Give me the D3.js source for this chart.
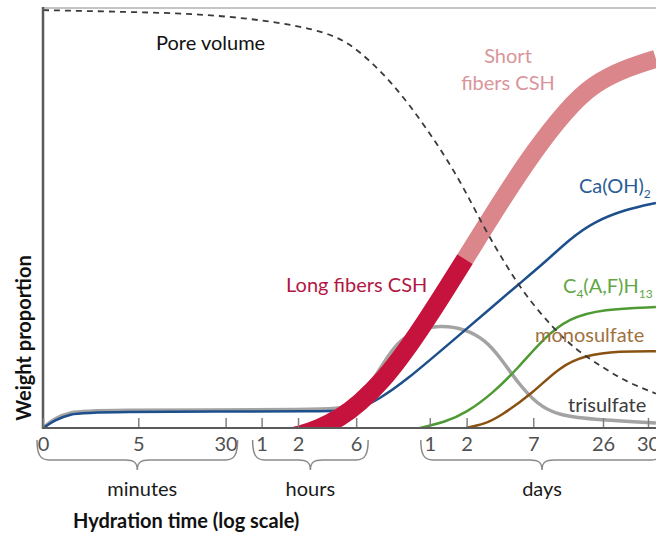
<!DOCTYPE html>
<meta charset="utf-8">
<style>
body { margin: 0; background: #fff; }
text { font-family: Lato, "Open Sans", sans-serif; }
.curve { fill: none; stroke-linejoin: round; }
.tick text { fill: #505050; font-size: 20px; }
</style>
<svg width="656" height="538"></svg>
<script src="https://d3js.org/d3.v7.min.js"></script>
<script>
// hydration time in minutes, weight proportion in % of plot height
var tickMinutes = [0, 5, 30, 60, 120, 360, 1440, 2880, 10080, 37440, 43200];
var tickLabels = ["0", "5", "30", "1", "2", "6", "1", "2", "7", "26", "30"];

var poreT = [0, 4.4, 18, 66, 220, 380, 720, 1340, 2500, 3910, 6030, 8790, 14620, 22530, 37440, 40300, 44300];
var poreV = [99.5, 99.05, 98.6, 97.1, 94.3, 90, 82.1, 71.7, 59.5, 48.1, 38.8, 31.4, 23.8, 18.6, 14.4, 11.0, 8.2];

var cshT = [40, 85, 125, 182, 265, 380, 620, 900, 1320, 1920, 3070, 5490, 10400, 18700, 31000, 40300, 44300];
var cshV = [-2.7, -2.5, -1.7, 0, 2.4, 5.7, 11.9, 18.1, 25.2, 32.6, 42.1, 54.0, 66.2, 75.7, 81.9, 85.7, 87.9];
var longFiberEnd = 2800; // long fibers up to ~2 days

var caohT = [0, 0.25, 0.66, 1.4, 290, 387, 565, 870, 2500, 4730, 7870, 12580, 20150, 31000, 40300, 44300];
var caohV = [0, 1.9, 3.3, 3.9, 3.9, 4.5, 7.1, 10.7, 22.1, 29.0, 34.5, 39.5, 45.0, 49.0, 52.1, 53.6];

var trisT = [0, 0.25, 0.66, 1.4, 241, 297, 387, 486, 609, 793, 1090, 1750, 2800, 4070, 5390, 7570, 10820, 16070, 35390, 44300];
var trisV = [0, 2.4, 3.7, 4.3, 4.3, 5.0, 7.4, 11.0, 15.7, 20.5, 23.3, 24.5, 23.6, 21.0, 16.9, 10.7, 5.7, 2.9, 1.9, 1.2];

var afhT = [1200, 1920, 2850, 4730, 7710, 12110, 19760, 37440, 44300];
var afhV = [0, 1.4, 3.6, 8.3, 14.5, 21.2, 26.2, 28.3, 28.8];

var monoT = [2850, 4070, 5290, 10040, 16370, 27190, 39390, 44300];
var monoV = [0, 1, 2.6, 8.3, 14.5, 17.4, 18.3, 18.3];

var svg = d3.select("svg");

var x = d3.scaleSymlog().constant(1)
    .domain([0, 37440, 43200])
    .range([43, 603, 648]);
var y = d3.scaleLinear().domain([0, 100]).range([428, 8]);

function series(t, v) { return t.map(function(d, i) { return [d, v[i]]; }); }

var line = d3.line()
    .x(function(d) { return x(d[0]); })
    .y(function(d) { return y(d[1]); })
    .curve(d3.curveBasis);

svg.append("clipPath").attr("id", "plot")
  .append("rect").attr("x", 43).attr("y", 0).attr("width", 613).attr("height", 428);

var g = svg.append("g").attr("clip-path", "url(#plot)");

// trisulfate
g.append("path").attr("class", "curve")
    .attr("d", line(series(trisT, trisV)))
    .attr("stroke", "#a3a3a3").attr("stroke-width", 3.5);

// Ca(OH)2
g.append("path").attr("class", "curve")
    .attr("d", line(series(caohT, caohV)))
    .attr("stroke", "#1d4f8c").attr("stroke-width", 2.5);

// C4(A,F)H13
g.append("path").attr("class", "curve")
    .attr("d", line(series(afhT, afhV)))
    .attr("stroke", "#4f9a35").attr("stroke-width", 2.5);

// monosulfate
g.append("path").attr("class", "curve")
    .attr("d", line(series(monoT, monoV)))
    .attr("stroke", "#8a5212").attr("stroke-width", 2.5);

// CSH: short fibers (pink) with long fibers (red) on the lower part
var cshD = line(series(cshT, cshV));
g.append("path").attr("class", "curve")
    .attr("d", cshD)
    .attr("stroke", "#da868a").attr("stroke-width", 18);

var red = g.append("path").attr("class", "curve")
    .attr("d", cshD)
    .attr("stroke", "#c6133d").attr("stroke-width", 18);

var rn = red.node(), total = rn.getTotalLength(), xEnd = x(longFiberEnd);
var lo = 0, hi = total;
for (var k = 0; k < 40; k++) {
  var mid = (lo + hi) / 2;
  if (rn.getPointAtLength(mid).x < xEnd) lo = mid; else hi = mid;
}
red.attr("stroke-dasharray", lo + " " + total);

// pore volume
g.append("path").attr("class", "curve")
    .attr("d", line(series(poreT, poreV)))
    .attr("stroke", "#3a3a3a").attr("stroke-width", 1.8)
    .attr("stroke-dasharray", "6,5");

// frame
svg.append("line").attr("x1", 43).attr("x2", 656).attr("y1", 8).attr("y2", 8)
    .attr("stroke", "#c4c4c4").attr("stroke-width", 2);
svg.append("line").attr("x1", 43).attr("x2", 43).attr("y1", 7).attr("y2", 429)
    .attr("stroke", "#5a5a5a").attr("stroke-width", 2.5);

var ax = svg.append("g")
    .attr("transform", "translate(0," + y(0) + ")")
    .call(d3.axisBottom(x)
      .tickValues(tickMinutes)
      .tickFormat(function(d, i) { return tickLabels[i]; })
      .tickSize(-10)
      .tickSizeOuter(0)
      .tickPadding(7));
ax.select(".domain").remove();
ax.selectAll(".tick line").attr("stroke", "#808080").attr("stroke-width", 1.5);
ax.selectAll(".tick text").attr("font-family", "Lato").attr("dy", "0.78em");

svg.append("line").attr("x1", 43).attr("x2", 656).attr("y1", y(0)).attr("y2", y(0))
    .attr("stroke", "#5a5a5a").attr("stroke-width", 2);

// braces grouping the ticks
var groups = [
  { name: "minutes", from: 0, to: 30 },
  { name: "hours", from: 60, to: 360 },
  { name: "days", from: 1440, to: null }
];

function brace(x1, x2) {
  var m = (x1 + x2) / 2, t = 440, b = 460, tip = 470, r = 12;
  return "M" + x1 + "," + t +
    "C" + x1 + "," + (b - 6) + " " + (x1 + 3) + "," + b + " " + (x1 + r) + "," + b +
    "L" + (m - r) + "," + b +
    "C" + (m - 4) + "," + b + " " + m + "," + (b + 2) + " " + m + "," + tip +
    "C" + m + "," + (b + 2) + " " + (m + 4) + "," + b + " " + (m + r) + "," + b +
    "L" + (x2 - r) + "," + b +
    "C" + (x2 - 3) + "," + b + " " + x2 + "," + (b - 6) + " " + x2 + "," + t;
}

groups.forEach(function(gr) {
  var x1 = x(gr.from) - (gr.from === 0 ? 6 : 9);
  var x2 = gr.to === null ? x1 + 2 * (542 - x1) : x(gr.to) + 12;
  svg.append("path").attr("d", brace(x1, x2))
      .attr("fill", "none").attr("stroke", "#8a8a8a").attr("stroke-width", 1.5);
  svg.append("text").attr("x", (x1 + x2) / 2 + (gr.from === 0 ? 5 : 0)).attr("y", 496)
      .attr("text-anchor", "middle").attr("font-size", 20).attr("fill", "#1a1a1a")
      .text(gr.name);
});

// axis titles
svg.append("text").attr("x", 73).attr("y", 528)
    .attr("font-size", 20).attr("font-weight", "bold").attr("fill", "#111")
    .text("Hydration time (log scale)");
svg.append("text").attr("transform", "translate(31,338) rotate(-90)")
    .attr("text-anchor", "middle")
    .attr("font-size", 20).attr("font-weight", "bold").attr("fill", "#111")
    .text("Weight proportion");

// curve labels
function label(px, py, color) {
  return svg.append("text").attr("x", px).attr("y", py)
      .attr("font-size", 20).attr("fill", color);
}
label(156, 50, "#111").text("Pore volume");
label(508, 63, "#d9959a").attr("text-anchor", "middle").text("Short");
label(508, 90, "#d9959a").attr("text-anchor", "middle").text("fibers CSH");
label(286, 292, "#b31744").text("Long fibers CSH");

var ca = label(579, 193, "#2b5c96");
ca.append("tspan").text("Ca(OH)");
ca.append("tspan").attr("font-size", 12).attr("dy", 5).text("2");

var c4 = label(563, 293, "#62a646");
c4.append("tspan").text("C");
c4.append("tspan").attr("font-size", 12).attr("dy", 5).text("4");
c4.append("tspan").attr("dy", -5).text("(A,F)H");
c4.append("tspan").attr("font-size", 12).attr("dy", 5).text("13");

label(535, 342, "#a0713f").text("monosulfate");
label(568, 412, "#3c3c3c").text("trisulfate");
</script>
